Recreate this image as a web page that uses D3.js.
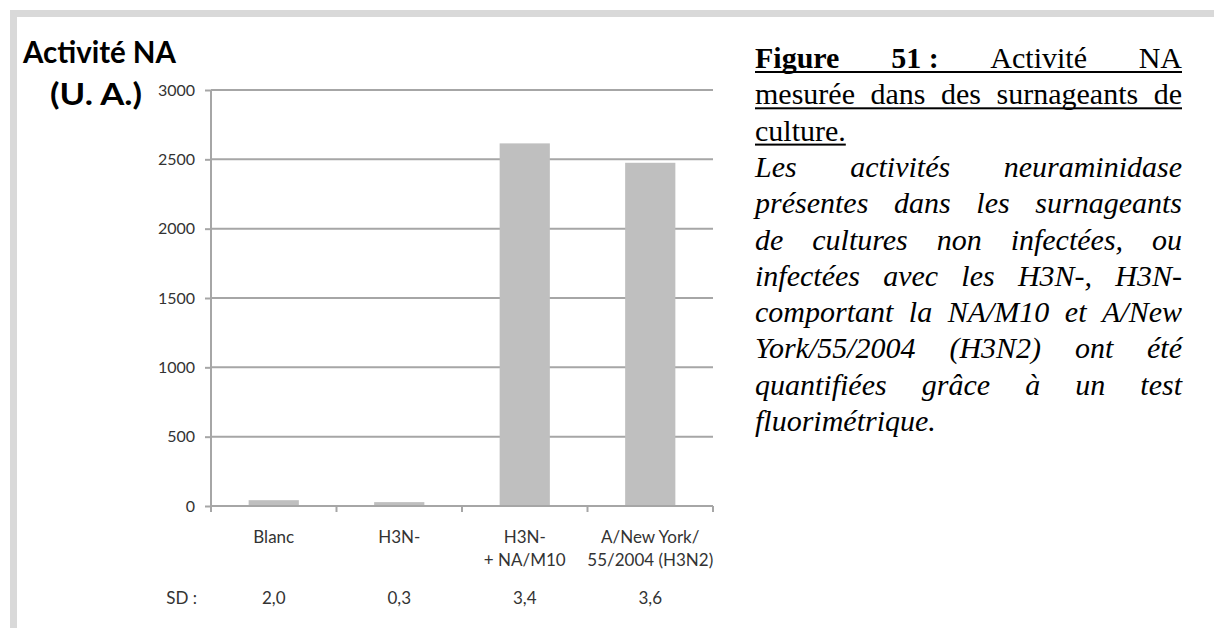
<!DOCTYPE html>
<html><head><meta charset="utf-8">
<script src="https://cdn.jsdelivr.net/npm/d3@7"></script>
<style>body{margin:0;background:#fff}svg{display:block}</style>
</head><body><svg id="c" width="1214" height="628"></svg>
<script>
// ---- data ----
const categories = ["Blanc", "H3N-", "H3N- + NA/M10", "A/New York/55/2004 (H3N2)"];
const categoryLines = [["Blanc"], ["H3N-"], ["H3N-", "+ NA/M10"], ["A/New York/", "55/2004 (H3N2)"]];
const values = [42, 28, 2615, 2475];
const sdValues = ["2,0", "0,3", "3,4", "3,6"];
const yTicks = [0, 500, 1000, 1500, 2000, 2500, 3000];
const yTitle = ["Activité NA", "(U. A.)"];
const sdTitle = "SD :";
const captionLines = [
  {words: [["Figure", "b"], ["51 :", "b"], ["Activité", ""], ["NA", ""]], style: "u", justify: true},
  {words: "mesurée dans des surnageants de", style: "u", justify: true},
  {words: "culture.", style: "u", justify: false},
  {words: "Les activités neuraminidase", style: "i", justify: true},
  {words: "présentes dans les surnageants", style: "i", justify: true},
  {words: "de cultures non infectées, ou", style: "i", justify: true},
  {words: "infectées avec les H3N-, H3N-", style: "i", justify: true},
  {words: "comportant la NA/M10 et A/New", style: "i", justify: true},
  {words: "York/55/2004 (H3N2) ont été", style: "i", justify: true},
  {words: "quantifiées grâce à un test", style: "i", justify: true},
  {words: "fluorimétrique.", style: "i", justify: false}
];

// ---- layout ----
const svg = d3.select("#c");
const chartFont = "Lato, 'Open Sans', sans-serif";
const plot = {left: 211, right: 713, top: 90, bottom: 506};
const gridColor = "#a6a6a6";

// frame
svg.append("rect").attr("x", 10).attr("y", 10).attr("width", 1204).attr("height", 7).attr("fill", "#d9d9d9");
svg.append("rect").attr("x", 10).attr("y", 10).attr("width", 7).attr("height", 618).attr("fill", "#d9d9d9");

const x = d3.scaleBand().domain(categories).range([plot.left, plot.right]).paddingInner(0.6).paddingOuter(0.3);
const y = d3.scaleLinear().domain([0, 3000]).range([plot.bottom, plot.top]);

// gridlines
svg.append("g").selectAll("line").data(yTicks.filter(d => d > 0)).join("line")
  .attr("x1", plot.left).attr("x2", plot.right)
  .attr("y1", d => y(d)).attr("y2", d => y(d))
  .attr("stroke", gridColor).attr("stroke-width", 2);

// y axis
const yAxis = svg.append("g").attr("transform", `translate(${plot.left},0)`)
  .call(d3.axisLeft(y).tickValues(yTicks).tickSize(6).tickPadding(10).tickFormat(d3.format("d")));
yAxis.select(".domain").attr("stroke", gridColor).attr("stroke-width", 2).attr("d", `M0,${plot.top}V${plot.bottom}`);
yAxis.selectAll(".tick line").attr("stroke", gridColor).attr("stroke-width", 2);
yAxis.selectAll(".tick text").attr("font-family", chartFont).attr("font-size", 16).attr("fill", "#333");

// bars
svg.append("g").selectAll("rect").data(values).join("rect")
  .attr("x", (d, i) => x(categories[i]))
  .attr("width", x.bandwidth())
  .attr("y", d => y(d))
  .attr("height", d => y(0) - y(d))
  .attr("fill", "#bfbfbf");

// x axis line + ticks at band boundaries
svg.append("line").attr("x1", plot.left).attr("x2", plot.right).attr("y1", y(0)).attr("y2", y(0))
  .attr("stroke", gridColor).attr("stroke-width", 2);
const bounds = d3.range(categories.length + 1).map(i => plot.left + i * (plot.right - plot.left) / categories.length);
svg.append("g").selectAll("line").data(bounds).join("line")
  .attr("x1", d => d).attr("x2", d => d).attr("y1", y(0)).attr("y2", y(0) + 6)
  .attr("stroke", gridColor).attr("stroke-width", 2);

// category labels
const catG = svg.append("g").attr("font-family", chartFont).attr("font-size", 17).attr("fill", "#333").attr("text-anchor", "middle");
categoryLines.forEach((lines, i) => {
  const cx = x(categories[i]) + x.bandwidth() / 2;
  lines.forEach((t, j) => {
    catG.append("text").attr("x", cx).attr("y", 543 + j * 23).text(t);
  });
});

// SD row
const sdG = svg.append("g").attr("font-family", chartFont).attr("font-size", 17).attr("fill", "#333");
sdG.append("text").attr("x", 197).attr("y", 604).attr("text-anchor", "end").text(sdTitle);
sdValues.forEach((t, i) => {
  sdG.append("text").attr("x", x(categories[i]) + x.bandwidth() / 2).attr("y", 604).attr("text-anchor", "middle").text(t);
});

// y title
svg.append("text").attr("x", 23).attr("y", 63).attr("font-family", chartFont).attr("font-weight", "bold")
  .attr("font-size", 30).attr("fill", "#000").attr("textLength", 153).attr("lengthAdjust", "spacingAndGlyphs").text(yTitle[0]);
svg.append("text").attr("x", 50).attr("y", 105).attr("font-family", chartFont).attr("font-weight", "bold")
  .attr("font-size", 30).attr("fill", "#000").attr("textLength", 92).attr("lengthAdjust", "spacingAndGlyphs").text(yTitle[1]);

// caption
const cap = {left: 755, right: 1182, top: 68, lh: 36.3, size: 30};
const capG = svg.append("g").attr("font-family", "'Liberation Serif', 'Times New Roman', serif").attr("font-size", cap.size).attr("fill", "#000");
captionLines.forEach((ln, li) => {
  const by = cap.top + li * cap.lh;
  const words = typeof ln.words === "string" ? ln.words.split(" ").map(w => [w, ""]) : ln.words;
  const nodes = words.map(([t, s]) => {
    const el = capG.append("text").attr("y", by).text(t)
      .attr("font-weight", s === "b" ? "bold" : "normal")
      .attr("font-style", ln.style === "i" ? "italic" : "normal");
    return {el, w: el.node().getComputedTextLength()};
  });
  const total = d3.sum(nodes, n => n.w);
  const spaceW = cap.size * 0.25;
  const gap = (ln.justify && nodes.length > 1) ? (cap.right - cap.left - total) / (nodes.length - 1) : spaceW;
  let cx = cap.left;
  nodes.forEach(n => { n.el.attr("x", cx); cx += n.w + gap; });
  const endX = cx - gap;
  if (ln.style === "u") {
    capG.append("rect").attr("x", cap.left).attr("y", by + 3).attr("width", endX - cap.left).attr("height", 2).attr("fill", "#000");
  }
});
</script>
</body></html>
